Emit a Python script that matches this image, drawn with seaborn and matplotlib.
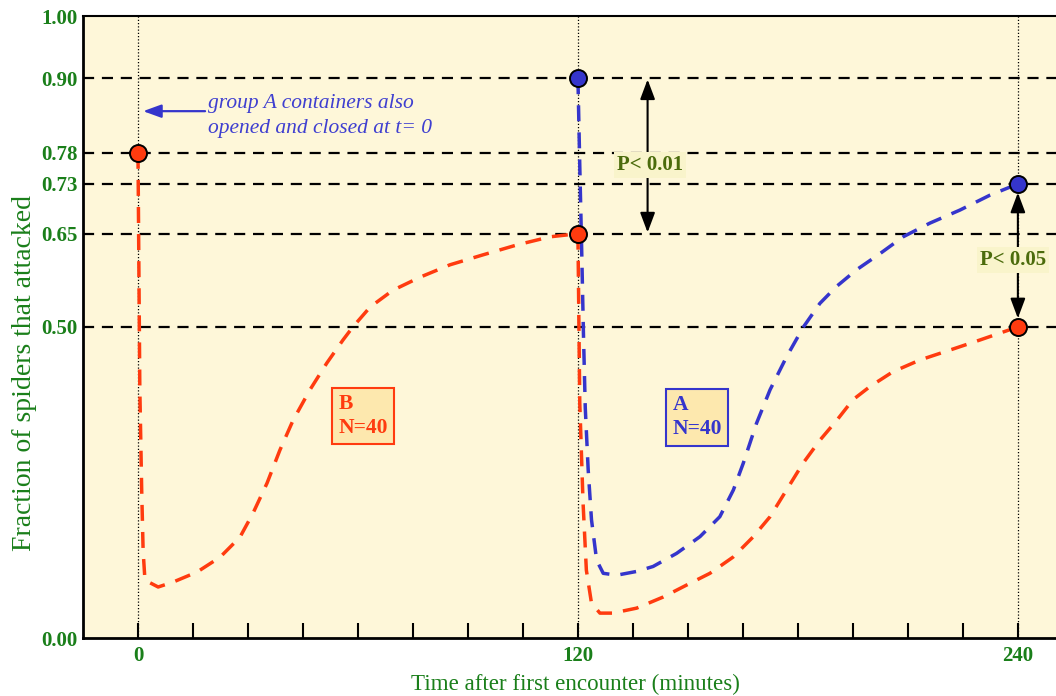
import matplotlib
matplotlib.use("Agg")
import numpy as np
import pandas as pd
import seaborn as sns
import matplotlib.pyplot as plt

# ---------------- data ----------------
# group B, first encounter (0-120 min)
b1_t = [0, 0.5, 1.0, 1.4, 1.9, 5.5, 9.6, 16.1, 22.4, 27.8, 31.4, 35.2, 38.7, 42.3,
        46.9, 51.5, 55.9, 58.6, 63.3, 69.5, 76.9, 85.1, 94.1, 103.4, 112.4, 120]
b1_y = [0.78, 0.40, 0.24, 0.14, 0.093, 0.082, 0.090, 0.106, 0.130, 0.162, 0.201, 0.249,
        0.302, 0.350, 0.399, 0.442, 0.479, 0.500, 0.532, 0.559, 0.580, 0.600, 0.616,
        0.632, 0.645, 0.65]
# group B, second encounter (120-240 min)
b2_t = [120, 120.5, 121.4, 122.3, 123.7, 126, 129.5, 136, 143.3, 149.6, 156, 162.3, 167.7,
        172.4, 176.9, 181.4, 186, 190.6, 195, 199.6, 205.9, 213.3, 221.5, 229.6, 236, 240]
b2_y = [0.65, 0.378, 0.217, 0.109, 0.056, 0.040, 0.040, 0.048, 0.066, 0.085, 0.104, 0.130,
        0.162, 0.195, 0.238, 0.281, 0.318, 0.350, 0.383, 0.404, 0.428, 0.447, 0.463,
        0.479, 0.492, 0.50]
# group A (120-240 min)
a_t = [120, 120.5, 121, 121.5, 122, 122.8, 123.7, 125.1, 126.9, 130.6, 136, 140.5, 146.9,
       153.3, 158.7, 162.4, 165.1, 168.7, 172.4, 176.9, 181.5, 186, 190.5, 196, 202.4,
       208.7, 216, 224.2, 232.4, 240]
a_y = [0.90, 0.76, 0.63, 0.49, 0.37, 0.27, 0.19, 0.125, 0.104, 0.101, 0.107, 0.115, 0.136,
       0.163, 0.195, 0.238, 0.281, 0.345, 0.399, 0.452, 0.50, 0.538, 0.565, 0.592, 0.618,
       0.645, 0.667, 0.688, 0.712, 0.73]

# highlighted points
red_pts_t = [0, 120, 240]
red_pts_y = [0.78, 0.65, 0.50]
blue_pts_t = [120, 240]
blue_pts_y = [0.90, 0.73]

ref_levels = [0.90, 0.78, 0.73, 0.65, 0.50]
ytick_vals = [0.0, 0.5, 0.65, 0.73, 0.78, 0.90, 1.0]
ytick_labels = ["0.00", "0.50", "0.65", "0.73", "0.78", "0.90", "1.00"]
xtick_vals = list(range(0, 241, 15))
xtick_labels = [str(v) if v in (0, 120, 240) else "" for v in xtick_vals]

# ---------------- style ----------------
sns.set_style("ticks")
plt.rcParams["font.family"] = ["Liberation Serif", "DejaVu Serif"]

RED = "#FF3B0F"
BLUE = "#3535CC"
GREEN = "#1A7F1A"
OLIVE = "#4B6B0C"
BG = "#FEF7D9"

fig = plt.figure(figsize=(10.56, 6.96), dpi=100)
ax = fig.add_axes([83 / 1056, 1 - 638 / 696, 1 - 83 / 1056, 622 / 696])
ax.set_facecolor(BG)

# reference lines
for lv in ref_levels:
    ax.axhline(lv, color="black", lw=1.6, ls=(0, (5, 3.5)), zorder=1)
for xv in (0, 120, 240):
    ax.axvline(xv, color="black", lw=0.9, ls=(0, (1, 1.6)), zorder=1)

# curves
dash = (0, (4.6, 3.2))
sns.lineplot(x=b1_t, y=b1_y, ax=ax, sort=False, estimator=None, color=RED, lw=2.5,
             linestyle=dash, zorder=3)
sns.lineplot(x=a_t, y=a_y, ax=ax, sort=False, estimator=None, color=BLUE, lw=2.5,
             linestyle=dash, zorder=3)
sns.lineplot(x=b2_t, y=b2_y, ax=ax, sort=False, estimator=None, color=RED, lw=2.5,
             linestyle=dash, zorder=3)

# markers
sns.scatterplot(x=red_pts_t, y=red_pts_y, ax=ax, color=RED, s=150, edgecolor="black",
                linewidth=1.4, zorder=5)
sns.scatterplot(x=blue_pts_t, y=blue_pts_y, ax=ax, color=BLUE, s=150, edgecolor="black",
                linewidth=1.4, zorder=5)

# axes limits / ticks
ax.set_xlim(-15, 250.4)
ax.set_ylim(0, 1)
ax.set_xticks(xtick_vals)
ax.set_xticklabels(xtick_labels, fontweight="bold")
ax.set_yticks(ytick_vals)
ax.set_yticklabels(ytick_labels, fontweight="bold")
ax.tick_params(axis="x", direction="in", length=11, width=1.5, color="black",
               pad=6, labelsize=15, labelcolor=GREEN)
ax.tick_params(axis="y", length=0, pad=4, labelsize=15, labelcolor=GREEN)

for side in ("left", "bottom"):
    ax.spines[side].set_linewidth(2)
    ax.spines[side].set_color("black")
ax.spines["top"].set_linewidth(1.5)
ax.spines["top"].set_color("black")
ax.spines["top"].set_visible(True)
ax.spines["right"].set_visible(False)

ax.set_xlabel("Time after first encounter (minutes)", fontsize=16.6, color=GREEN)
ax.set_ylabel("Fraction of spiders that attacked", fontsize=20, color=GREEN)
ax.xaxis.set_label_coords(0.506, -0.058)
ax.yaxis.set_label_coords(-0.047, 0.426)

# group boxes
ax.text(61.4, 0.357, "B\nN=40", color=RED, fontsize=15.5, fontweight="bold",
        ha="center", va="center", ma="left", linespacing=1.25, zorder=6,
        bbox=dict(boxstyle="square,pad=0.3", fc="#FDE8AE", ec=RED, lw=1.5))
ax.text(152.5, 0.355, "A\nN=40", color=BLUE, fontsize=15.5, fontweight="bold",
        ha="center", va="center", ma="left", linespacing=1.25, zorder=6,
        bbox=dict(boxstyle="square,pad=0.3", fc="#FDE8AE", ec=BLUE, lw=1.5))

# significance arrows
arrow_style = "<|-|>,head_length=1.2,head_width=0.45"
ax.annotate("", xy=(139, 0.898), xytext=(139, 0.652),
            arrowprops=dict(arrowstyle=arrow_style, color="black", lw=1.5,
                            shrinkA=0, shrinkB=0), zorder=4)
ax.text(139.6, 0.760, "P< 0.01", color=OLIVE, fontsize=15, fontweight="bold",
        ha="center", va="center", zorder=6,
        bbox=dict(boxstyle="square,pad=0.15", fc="#F9F4CB", ec="none"))
ax.annotate("", xy=(240, 0.716), xytext=(240, 0.514),
            arrowprops=dict(arrowstyle=arrow_style, color="black", lw=1.5,
                            shrinkA=0, shrinkB=0), zorder=4)
ax.text(238.6, 0.608, "P< 0.05", color=OLIVE, fontsize=15, fontweight="bold",
        ha="center", va="center", zorder=6,
        bbox=dict(boxstyle="square,pad=0.15", fc="#F9F4CB", ec="none"))

# note about group A
ax.annotate("", xy=(1.4, 0.847), xytext=(18.3, 0.847),
            arrowprops=dict(arrowstyle="-|>,head_length=1.1,head_width=0.4",
                            color=BLUE, lw=1.6, shrinkA=0, shrinkB=0), zorder=4)
ax.text(19.1, 0.839, "group A containers also\nopened and closed at t= 0", color="#3F3FD0",
        fontsize=15.5, fontstyle="italic", ha="left", va="center", linespacing=1.45, zorder=6)

fig.savefig("out.png", dpi=100, facecolor="white")
